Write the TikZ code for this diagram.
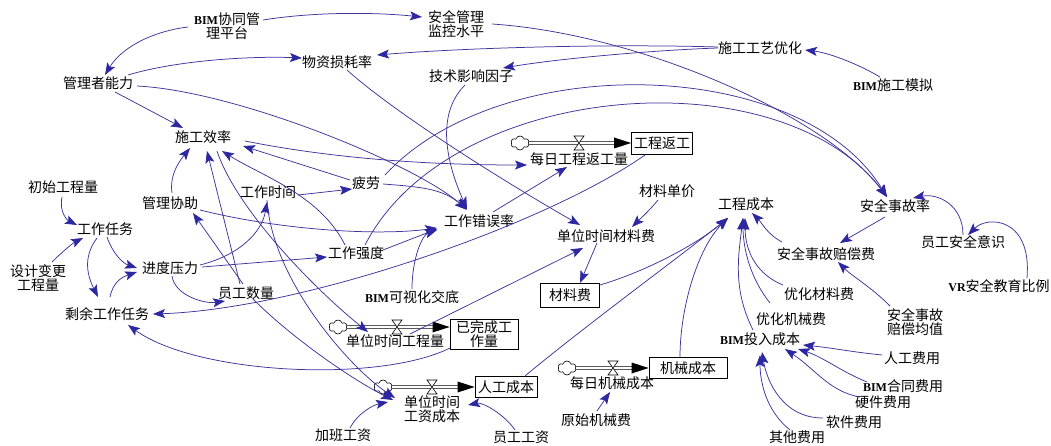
\documentclass[tikz,border=0pt]{standalone}
\usepackage{fontspec}
\setmainfont{Noto Sans CJK SC}
\newfontfamily\latf{Liberation Serif}
\usetikzlibrary{calc,arrows.meta,shapes.symbols}
\definecolor{arrc}{RGB}{62,52,155}
\definecolor{tipc}{RGB}{45,40,160}
\newcommand\B[1]{{\latf\bfseries\fontsize{12}{14}\selectfont #1}}
\begin{document}
\begin{tikzpicture}[x=1pt,y=-1pt,
  v/.style={inner sep=1pt, font=\fontsize{14}{14}\selectfont, align=center},
  stk/.style={v, draw, line width=0.8pt, inner sep=0pt},
  arr/.style={draw=arrc, line width=0.75pt, -{Stealth[length=12pt,width=9pt,inset=2.5pt,color=tipc]}},
  pipe/.style={draw, double, double distance=2.6pt, line width=0.6pt},
  cld/.style={cloud, cloud puffs=6, draw, line width=0.6pt, minimum width=18pt, minimum height=14pt, inner sep=0pt, fill=white},
  valve/.style={draw, fill=white, line width=0.6pt}]
\fill[white] (0,0) rectangle (1051,446);
\useasboundingbox (0,0) rectangle (1051,446);
% nodes
\node[v] (bimp) at (227,26) {\B{BIM}协同管\\理平台};
\node[v] (aqjk) at (456,24) {安全管理\\监控水平};
\node[v] (sggy) at (760,48) {施工工艺优化};
\node[v] (bimmn) at (893,85) {\B{BIM}施工模拟};
\node[v] (wzsh) at (337,62) {物资损耗率};
\node[v] (jsyx) at (471,76) {技术影响因子};
\node[v] (glnl) at (98,83) {管理者能力};
\node[v] (sgxl) at (203,137) {施工效率};
\node[v] (cscl) at (63,187) {初始工程量};
\node[v] (gzrw) at (105,229) {工作任务};
\node[v] (sjbg) at (38,278) {设计变更\\工程量};
\node[v] (jdyl) at (170,268) {进度压力};
\node[v] (glxz) at (170,203) {管理协助};
\node[v] (gzsj) at (268,192) {工作时间};
\node[v] (pl) at (366,183) {疲劳};
\node[v] (gzqd) at (356,253) {工作强度};
\node[v] (gzcw) at (479,221) {工作错误率};
\node[v] (ygsl) at (246,293) {员工数量};
\node[v] (sygz) at (107,314) {剩余工作任务};
\node[v] (bimjd) at (412,297) {\B{BIM}可视化交底};
\node[stk, minimum width=61pt, minimum height=22pt] (gcfg) at (662,143) {工程返工};
\node[v] (mrfg) at (579,159) {每日工程返工量};
\node[v] (cldj) at (667,191) {材料单价};
\node[v] (sjcl) at (606,236) {单位时间材料费};
\node[stk, minimum width=59pt, minimum height=24pt] (clf) at (570,295) {材料费};
\node[v] (gccb) at (746,204) {工程成本};
\node[v] (aqsg) at (895,206) {安全事故率};
\node[v] (ygaq) at (963,242) {员工安全意识};
\node[v] (vr) at (999,286) {\B{VR}安全教育比例};
\node[v] (aqpc) at (826,254) {安全事故赔偿费};
\node[v] (yhcl) at (819,294) {优化材料费};
\node[v] (aqjz) at (915,322) {安全事故\\赔偿均值};
\node[v] (yhjx) at (791,319) {优化机械费};
\node[v] (bimtr) at (760,339) {\B{BIM}投入成本};
\node[v] (rgfy) at (912,358) {人工费用};
\node[v] (bimht) at (903,386) {\B{BIM}合同费用};
\node[v] (yjfy) at (883,402) {硬件费用};
\node[v] (rjfy) at (854,422) {软件费用};
\node[v] (qtfy) at (797,437) {其他费用};
\node[stk, minimum width=68pt, minimum height=30pt] (ywc) at (484,334) {已完成工\\作量};
\node[v] (dwgc) at (395,341) {单位时间工程量};
\node[stk, minimum width=62pt, minimum height=21pt] (rgcb) at (506,387) {人工成本};
\node[v] (dwgz) at (432,409) {单位时间\\工资成本};
\node[v] (jbgz) at (343,435) {加班工资};
\node[v] (yggz) at (521,437) {员工工资};
\node[stk, minimum width=78pt, minimum height=21pt] (jxcb) at (688,368) {机械成本};
\node[v] (mrjx) at (612,383) {每日机械成本};
\node[v] (ysjx) at (596,420) {原始机械费};
% flows
\node[cld] (c1) at (520,143) {};
\node[cld] (c2) at (338,327) {};
\node[cld] (c3) at (383,387) {};
\node[cld] (c4) at (567,368) {};
\coordinate (v1) at (579,143);
\coordinate (v2) at (397,327);
\coordinate (v3) at (432,387);
\coordinate (v4) at (613,368);
\coordinate (e1) at (gcfg.west);
\coordinate (e2) at ($(ywc.west)+(0,-7)$);
\coordinate (e3) at (rgcb.west);
\coordinate (e4) at (jxcb.west);
\foreach \c/\e in {c1/e1,c2/e2,c3/e3,c4/e4}{
  \draw[pipe] (\c.east) -- ($(\e)+(-15,0)$);
  \fill ($(\e)+(-17,-5.5)$) -- (\e) -- ($(\e)+(-17,5.5)$) -- cycle;
}
\foreach \w in {v1,v2,v3,v4}{
  \draw[valve] ($(\w)+(-5,-7)$) -- ($(\w)+(5,-7)$) -- ($(\w)+(-5,7)$) -- ($(\w)+(5,7)$) -- cycle;
}
% connectors
\draw[arr] ($(bimp)+(-39,1)$) .. controls +(-40,5) and +(15,-25) .. ($(glnl)+(7,-8)$);
\draw[arr] ($(bimp)+(36,-6)$) .. controls +(50,-8) and +(-50,-5) .. ($(aqjk)+(-34,-7)$);
\draw[arr] ($(glnl)+(30,-8)$) .. controls +(50,-15) and +(-50,-2) .. ($(wzsh)+(-35,-4)$);
\draw[arr] ($(glnl)+(17,9)$) -- ($(sgxl)+(-20,-9)$);
\draw[arr] ($(glnl)+(39,3)$) .. controls +(100,5) and +(-50,-45) .. ($(gzcw)+(-12,-11)$);
\draw[arr] ($(sggy)+(-42,-1)$) .. controls +(-100,-3) and +(100,-8) .. ($(wzsh)+(40,-7)$);
\draw[arr] ($(sggy)+(-42,0)$) .. controls +(-60,2) and +(60,-10) .. ($(jsyx)+(32,-8)$);
\draw[arr] ($(bimmn)+(-13,-8)$) .. controls +(-20,-12) and +(25,3) .. ($(sggy)+(45,2)$);
\draw[arr] ($(aqjk)+(36,0)$) .. controls +(150,10) and +(-60,-80) .. ($(aqsg)+(-8,-9)$);
\draw[arr] ($(jsyx)+(-6,9)$) .. controls +(-30,30) and +(-20,-45) .. ($(gzcw)+(-12,-12)$);
\draw[arr] ($(wzsh)+(10,8)$) .. controls +(50,45) and +(-70,-40) .. ($(sjcl)+(-26,-11)$);
\draw[arr] ($(cscl)+(-1,10)$) .. controls +(-3,15) and +(-10,-5) .. ($(gzrw)+(-28,-4)$);
\draw[arr] ($(sjbg)+(14,-16)$) .. controls +(10,-10) and +(-10,5) .. ($(gzrw)+(-22,9)$);
\draw[arr] ($(gzrw)+(2,8)$) .. controls +(5,15) and +(-15,-5) .. ($(jdyl)+(-33,0)$);
\draw[arr] ($(gzrw)+(-8,9)$) .. controls +(-15,20) and +(-10,-20) .. ($(sygz)+(-9,-17)$);
\draw[arr] ($(sygz)+(3,-17)$) .. controls +(3,-15) and +(-15,5) .. ($(jdyl)+(-33,4)$);
\draw[arr] ($(jdyl)+(30,-3)$) .. controls +(40,-10) and +(-5,30) .. ($(gzsj)+(-1,10)$);
\draw[arr] ($(jdyl)+(32,-1)$) -- ($(gzqd)+(-29,4)$);
\draw[arr] ($(jdyl)+(2,8)$) .. controls +(3,20) and +(-20,3) .. ($(ygsl)+(-21,8)$);
\draw[arr] ($(gzsj)+(30,3)$) -- ($(pl)+(-14,6)$);
\draw[arr] ($(ygsl)+(-3,-9)$) -- ($(glxz)+(23,10)$);
\draw[arr] ($(glxz)+(2,-10)$) .. controls +(-3,-20) and +(-8,10) .. ($(sgxl)+(-13,11)$);
\draw[arr] ($(ygsl)+(-6,-9)$) -- ($(sgxl)+(4,14)$);
\draw[arr] ($(glxz)+(30,7)$) .. controls +(80,20) and +(-60,8) .. ($(gzcw)+(-42,7)$);
\draw[arr] ($(pl)+(-16,-3)$) -- ($(sgxl)+(40,9)$);
\draw[arr] ($(gzqd)+(-11,-8)$) .. controls +(-25,-50) and +(40,25) .. ($(sgxl)+(19,14)$);
\draw[arr] ($(sgxl)+(42,4)$) .. controls +(100,20) and +(-80,0) .. ($(mrfg)+(-52,6)$);
\draw[arr] ($(pl)+(17,1)$) .. controls +(40,3) and +(-25,-20) .. ($(gzcw)+(-12,-12)$);
\draw[arr] ($(gzqd)+(27,-3)$) -- ($(gzcw)+(-42,8)$);
\draw[arr] ($(bimjd)+(0,-8)$) .. controls +(0,-30) and +(-15,5) .. ($(gzcw)+(-42,9)$);
\draw[arr] ($(gzcw)+(14,-9)$) -- ($(mrfg)+(-12,8)$);
\draw[arr] ($(gcfg)+(-17,12)$) .. controls +(-100,70) and +(150,-5) .. ($(sygz)+(46,0)$);
\draw[arr] ($(ywc)+(-34,14)$) .. controls +(-70,35) and +(70,50) .. ($(sygz)+(21,11)$);
\draw[arr] ($(sgxl)+(14,14)$) .. controls +(20,60) and +(-50,-40) .. ($(dwgc)+(-27,-9)$);
\draw[arr] ($(gzsj)+(-1,8)$) .. controls +(5,80) and +(-45,-30) .. ($(dwgz)+(-37,-11)$);
\draw[arr] ($(ygsl)+(7,6)$) .. controls +(40,40) and +(-40,-20) .. ($(dwgz)+(-39,-9)$);
\draw[arr] ($(jbgz)+(7,-7)$) .. controls +(8,-15) and +(-15,3) .. ($(dwgz)+(-44,-7)$);
\draw[arr] ($(yggz)+(-6,-7)$) .. controls +(-10,-15) and +(15,-3) .. ($(dwgz)+(36,-4)$);
\draw[arr] ($(dwgc)+(15,-7)$) -- ($(sjcl)+(-23,12)$);
\draw[arr] ($(sjcl)+(-9,7)$) -- ($(clf)+(10,-12)$);
\draw[arr] ($(cldj)+(-9,9)$) .. controls +(-8,10) and +(8,-8) .. ($(sjcl)+(26,-9)$);
\draw[arr] ($(clf)+(30,-10)$) .. controls +(50,-15) and +(-30,25) .. ($(gccb)+(-18,14)$);
\draw[arr] ($(rgcb)+(19,-11)$) .. controls +(60,-50) and +(-50,40) .. ($(gccb)+(-18,14)$);
\draw[arr] ($(jxcb)+(-8,-11)$) .. controls +(0,-50) and +(-30,30) .. ($(gccb)+(-18,14)$);
\draw[arr] ($(bimtr)+(-7,-9)$) .. controls +(-20,-40) and +(-5,40) .. ($(gccb)+(-3,14)$);
\draw[arr] ($(yhjx)+(-21,-16)$) .. controls +(-20,-25) and +(0,30) .. ($(gccb)+(-3,14)$);
\draw[arr] ($(yhcl)+(-36,-9)$) .. controls +(-25,-10) and +(0,35) .. ($(gccb)+(-1,14)$);
\draw[arr] ($(aqpc)+(-44,-12)$) .. controls +(-15,-8) and +(10,10) .. ($(gccb)+(6,9)$);
\draw[arr] ($(aqsg)+(-10,11)$) -- ($(aqpc)+(14,-11)$);
\draw[arr] ($(aqjz)+(-25,-16)$) .. controls +(-20,-20) and +(15,15) .. ($(aqpc)+(12,8)$);
\draw[arr] ($(ygaq)+(0,-7)$) .. controls +(0,-30) and +(25,-5) .. ($(aqsg)+(18,-8)$);
\draw[arr] ($(vr)+(28,-8)$) .. controls +(5,-60) and +(20,-20) .. ($(ygaq)+(5,-7)$);
\draw[arr] ($(ysjx)+(1,-9)$) -- ($(mrjx)+(-2,9)$);
\draw[arr] ($(rgfy)+(-30,-3)$) .. controls +(-30,-3) and +(30,3) .. ($(bimtr)+(43,6)$);
\draw[arr] ($(bimht)+(-36,-4)$) .. controls +(-25,-10) and +(25,8) .. ($(bimtr)+(38,10)$);
\draw[arr] ($(yjfy)+(-23,-5)$) .. controls +(-30,-5) and +(30,20) .. ($(bimtr)+(25,10)$);
\draw[arr] ($(rjfy)+(-31,-4)$) .. controls +(-40,0) and +(5,30) .. ($(bimtr)+(2,13)$);
\draw[arr] ($(qtfy)+(-7,-7)$) .. controls +(-25,-20) and +(0,25) .. ($(bimtr)+(0,16)$);
\draw[arr] ($(pl)+(19,-8)$) .. controls +(115,-125) and +(-87,-142) .. ($(aqsg)+(-8,-9)$);
\draw[arr] ($(gzqd)+(9,-8)$) .. controls +(85,-165) and +(-107,-142) .. ($(aqsg)+(-8,-9)$);
\end{tikzpicture}
\end{document}
